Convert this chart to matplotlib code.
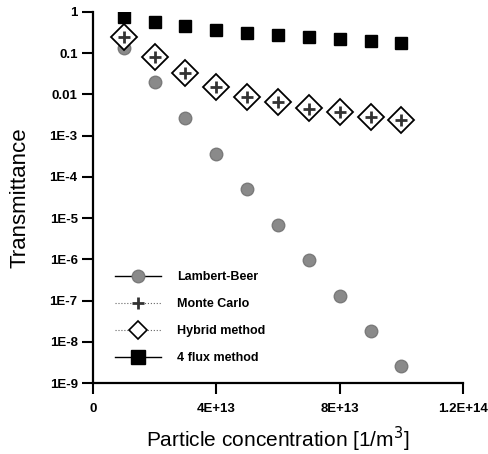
import numpy as np
import matplotlib.pyplot as plt
from matplotlib.lines import Line2D

# particle concentration [1/m^3]
conc = [1e13, 2e13, 3e13, 4e13, 5e13, 6e13, 7e13, 8e13, 9e13, 1e14]

lambert_beer = [0.13, 0.02, 2.7e-3, 3.5e-4, 5e-5, 7e-6, 9.5e-7, 1.3e-7, 1.8e-8, 2.6e-9]
monte_carlo = [0.25, 0.081, 0.033, 0.015, 0.0087, 0.0067, 0.0045, 0.0037, 0.0029, 0.0024]
hybrid = [0.25, 0.081, 0.033, 0.015, 0.0087, 0.0066, 0.0047, 0.0037, 0.0028, 0.0024]
four_flux = [0.76, 0.57, 0.46, 0.37, 0.31, 0.28, 0.25, 0.22, 0.20, 0.18]

yticks = [1, 0.1, 0.01, 1e-3, 1e-4, 1e-5, 1e-6, 1e-7, 1e-8, 1e-9]
ytick_labels = ['1', '0.1', '0.01', '1E-3', '1E-4', '1E-5', '1E-6', '1E-7', '1E-8', '1E-9']
xticks = [0, 4e13, 8e13, 1.2e14]
xtick_labels = ['0', '4E+13', '8E+13', '1.2E+14']

plt.rcParams['font.family'] = ['Liberation Sans', 'DejaVu Sans']

fig = plt.figure(figsize=(4.89, 4.54), dpi=100)
ax = fig.add_axes([0.190, 0.156, 0.757, 0.818])

ax.plot(conc, lambert_beer, linestyle='none', marker='o', ms=9,
        color='#8a8a8a', mec='#7a7a7a')
ax.plot(conc, hybrid, linestyle='none', marker='D', ms=13,
        mfc='white', mec='black', mew=1.3)
ax.plot(conc, monte_carlo, linestyle='none', marker='+', ms=8,
        color='#333333', mew=2.0)
ax.plot(conc, four_flux, linestyle='none', marker='s', ms=9,
        color='black')

ax.set_yscale('log')
ax.set_xlim(0, 1.2e14)
ax.set_ylim(1e-9, 1)
ax.set_yticks(yticks)
ax.set_yticklabels(ytick_labels)
ax.minorticks_off()
ax.set_xticks(xticks)
ax.set_xticklabels(xtick_labels)

for s in ['top', 'right']:
    ax.spines[s].set_visible(False)
for s in ['left', 'bottom']:
    ax.spines[s].set_linewidth(1.6)
ax.tick_params(axis='y', length=8, width=1.5, labelsize=9.5, pad=3)
ax.tick_params(axis='x', length=8, width=1.5, labelsize=9.5, pad=6)
for lab in ax.get_xticklabels() + ax.get_yticklabels():
    lab.set_fontweight('bold')

ax.set_xlabel('Particle concentration [1/m$^3$]', fontsize=15, labelpad=7)
ax.set_ylabel('Transmittance', fontsize=16, labelpad=14)

handles = [
    Line2D([], [], color='black', lw=1, marker='o', ms=9, mfc='#8a8a8a', mec='#7a7a7a'),
    Line2D([], [], color='#666666', lw=0.8, ls=':', marker='+', ms=8, mec='#333333', mew=2.0),
    Line2D([], [], color='#666666', lw=0.8, ls=':', marker='D', ms=9, mfc='white', mec='black', mew=1.2),
    Line2D([], [], color='black', lw=1, marker='s', ms=9.5, mfc='black', mec='black'),
]
labels = ['Lambert-Beer', 'Monte Carlo', 'Hybrid method', '4 flux method']
leg = ax.legend(handles, labels, loc='lower left', bbox_to_anchor=(0.028, 0.02),
                frameon=False, handlelength=3.7, handletextpad=1.3,
                labelspacing=1.2, prop={'size': 9, 'weight': 'bold'})

fig.savefig('out.png', dpi=100)
